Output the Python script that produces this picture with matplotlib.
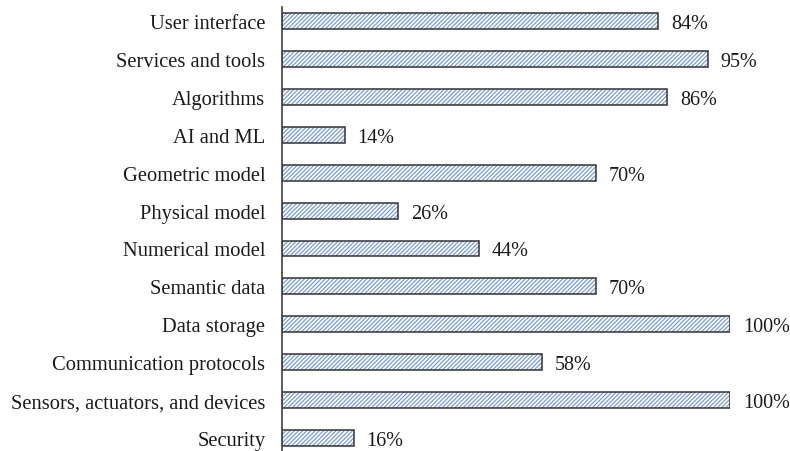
import numpy as np
import matplotlib.pyplot as plt

categories = ["User interface", "Services and tools", "Algorithms", "AI and ML",
              "Geometric model", "Physical model", "Numerical model", "Semantic data",
              "Data storage", "Communication protocols", "Sensors, actuators, and devices",
              "Security"]
values = [84, 95, 86, 14, 70, 26, 44, 70, 100, 58, 100, 16]

plt.rcParams['font.family'] = ['Liberation Serif', 'DejaVu Serif']
plt.rcParams['hatch.linewidth'] = 0.9

fig = plt.figure(figsize=(7.9, 4.52), dpi=100, facecolor='white')
ax = fig.add_axes([282 / 790, 0, 448 / 790, 444 / 452])

y = np.arange(len(categories))[::-1]
# hatch layer (light blue lines), then dark outline on top
ax.barh(y, values, height=0.42, color='white', edgecolor='#7d9bd6',
        hatch='////////', linewidth=0)
ax.barh(y, values, height=0.42, fill=False, edgecolor='#333333', linewidth=1.1)

for yi, v in zip(y, values):
    ax.text(v + 2.9, yi, f"{v}%", va='center_baseline', ha='left',
            fontsize=14.5, color='#1a1a1a')

ax.set_xlim(0, 100)
ax.set_ylim(-0.343, 11.37)
ax.set_yticks(y)
ax.set_yticklabels(categories, fontsize=14.8, color='#1a1a1a', va='center_baseline')
ax.tick_params(axis='y', length=0, pad=12)
ax.set_xticks([])

for s in ['top', 'right', 'bottom']:
    ax.spines[s].set_visible(False)
ax.spines['left'].set_color('#404040')
ax.spines['left'].set_linewidth(1.2)
ax.patch.set_alpha(0)

fig.savefig('out.png', dpi=100)
